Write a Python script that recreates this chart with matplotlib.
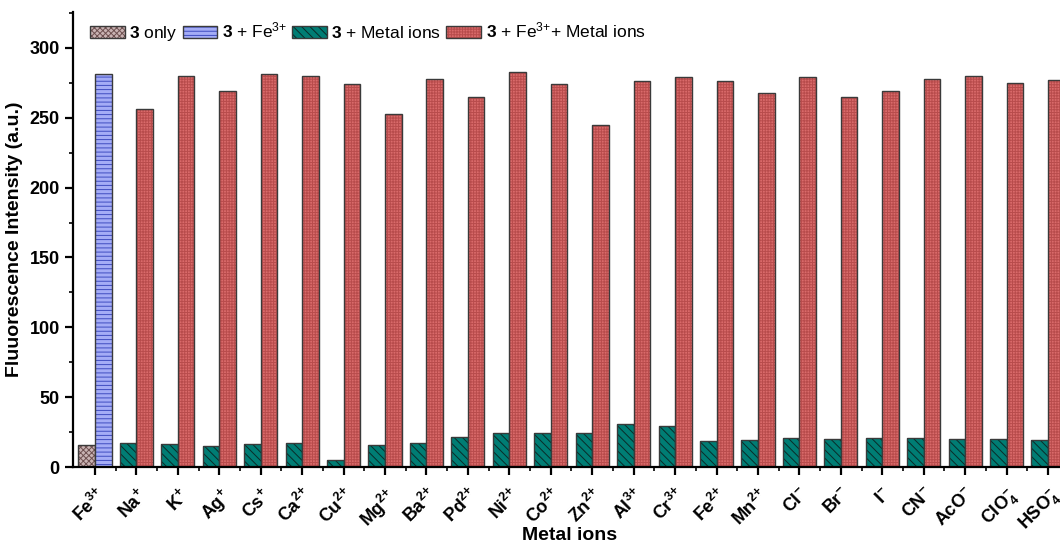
import matplotlib
matplotlib.use("Agg")
import matplotlib.pyplot as plt
import numpy as np
from matplotlib.legend_handler import HandlerTuple

plt.rcParams['font.family'] = ['Liberation Sans', 'DejaVu Sans']
plt.rcParams['mathtext.fontset'] = 'custom'
plt.rcParams['mathtext.rm'] = 'Liberation Sans'
plt.rcParams['mathtext.bf'] = 'Liberation Sans:bold'
plt.rcParams['mathtext.it'] = 'Liberation Sans:italic'
plt.rcParams['hatch.linewidth'] = 0.7

categories = [r'$\mathbf{Fe^{3{+}}}$', r'$\mathbf{Na^{{+}}}$', r'$\mathbf{K^{{+}}}$', r'$\mathbf{Ag^{{+}}}$',
              r'$\mathbf{Cs^{{+}}}$', r'$\mathbf{Ca^{2{+}}}$', r'$\mathbf{Cu^{2{+}}}$', r'$\mathbf{Mg^{2{+}}}$',
              r'$\mathbf{Ba^{2{+}}}$', r'$\mathbf{Pd^{2{+}}}$', r'$\mathbf{Ni^{2{+}}}$', r'$\mathbf{Co^{2{+}}}$',
              r'$\mathbf{Zn^{2{+}}}$', r'$\mathbf{Al^{3{+}}}$', r'$\mathbf{Cr^{3{+}}}$', r'$\mathbf{Fe^{2{+}}}$',
              r'$\mathbf{Mn^{2{+}}}$', r'$\mathbf{Cl^{-}}$', r'$\mathbf{Br^{-}}$', r'$\mathbf{I^{-}}$',
              r'$\mathbf{CN^{-}}$', r'$\mathbf{AcO^{-}}$', r'$\mathbf{ClO_4^{-}}$', r'$\mathbf{HSO_4^{-}}$']

only3 = [16]
with_fe = [281]
metal_ions = [17, 16.5, 15, 16.5, 17, 5, 16, 17, 21.5, 24, 24, 24, 31, 29.5,
              18.5, 19.5, 20.5, 20, 20.5, 21, 20, 20, 19.5]
fe_metal = [256, 280, 269, 281, 280, 274, 253, 278, 265, 283, 274, 245, 276, 279,
            276, 268, 279, 265, 269, 278, 280, 275, 277]

fig = plt.figure(figsize=(10.6, 5.47), dpi=100)
ax = fig.add_axes([73/1060, 1 - 467/547, 997/1060, 455/547])

w = 0.4
x = np.arange(len(categories))
edge = '#3a3a3a'

def hbar(xpos, vals, face, hcol, hatch):
    hb = ax.bar(xpos, vals, w, align='edge', color=face, edgecolor=hcol, hatch=hatch, linewidth=0)
    eb = ax.bar(xpos, vals, w, align='edge', fill=False, edgecolor=edge, linewidth=1.0)
    return (hb.patches[0], eb.patches[0])

h1 = hbar(x[:1] - w, only3, '#c9b3b3', '#6e5050', 'xxxxxx')
h2 = hbar(x[:1], with_fe, '#a4acf6', '#3f4cc0', '----')
h3 = hbar(x[1:] - w, metal_ions, '#007d74', '#0a2a28', '\\\\\\\\')
h4 = hbar(x[1:], fe_metal, '#d96a6a', '#b84c4c', '++++++')

ax.set_xlim(-0.53, 23.53)
ax.set_ylim(0, 325.7)
ax.set_yticks(np.arange(0, 301, 50))
ax.set_yticks(np.arange(25, 326, 50), minor=True)
ax.set_xticks(x)
ax.set_xticks(x[:-1] + 0.5, minor=True)
ax.set_xticklabels(categories, rotation=45, ha='right', rotation_mode='anchor', fontsize=13)
for lab in ax.get_yticklabels():
    lab.set_fontweight('bold')
    lab.set_fontsize(13)

for s in ['top', 'right']:
    ax.spines[s].set_visible(False)
for s in ['left', 'bottom']:
    ax.spines[s].set_linewidth(1.6)
ax.tick_params(axis='both', which='major', direction='out', length=6, width=1.6)
ax.tick_params(axis='both', which='minor', direction='out', length=3, width=1.2)
ax.tick_params(axis='x', which='major', pad=7)

ax.set_ylabel('Fluuorescence Intensity (a.u.)', fontsize=14, fontweight='bold', labelpad=5)
ax.set_xlabel('Metal ions', fontsize=14, fontweight='bold')
ax.xaxis.set_label_coords((570 - 73) / 997, -(527 - 467) / 455)

labels = [r'$\mathbf{3}$ only', r'$\mathbf{3}$ + Fe$^{3{+}}$', r'$\mathbf{3}$ + Metal ions',
          r'$\mathbf{3}$ + Fe$^{3{+}}$+ Metal ions']
fig.legend([h1, h2, h3, h4], labels, handler_map={tuple: HandlerTuple(ndivide=1)},
           loc='upper left', bbox_to_anchor=(90/1060, 1 - 21/547), ncol=4, frameon=False,
           fontsize=12.5, handlelength=2.0, handleheight=0.7, handletextpad=0.25,
           columnspacing=0.3, borderpad=0, borderaxespad=0)

fig.savefig('out.png', dpi=100)
